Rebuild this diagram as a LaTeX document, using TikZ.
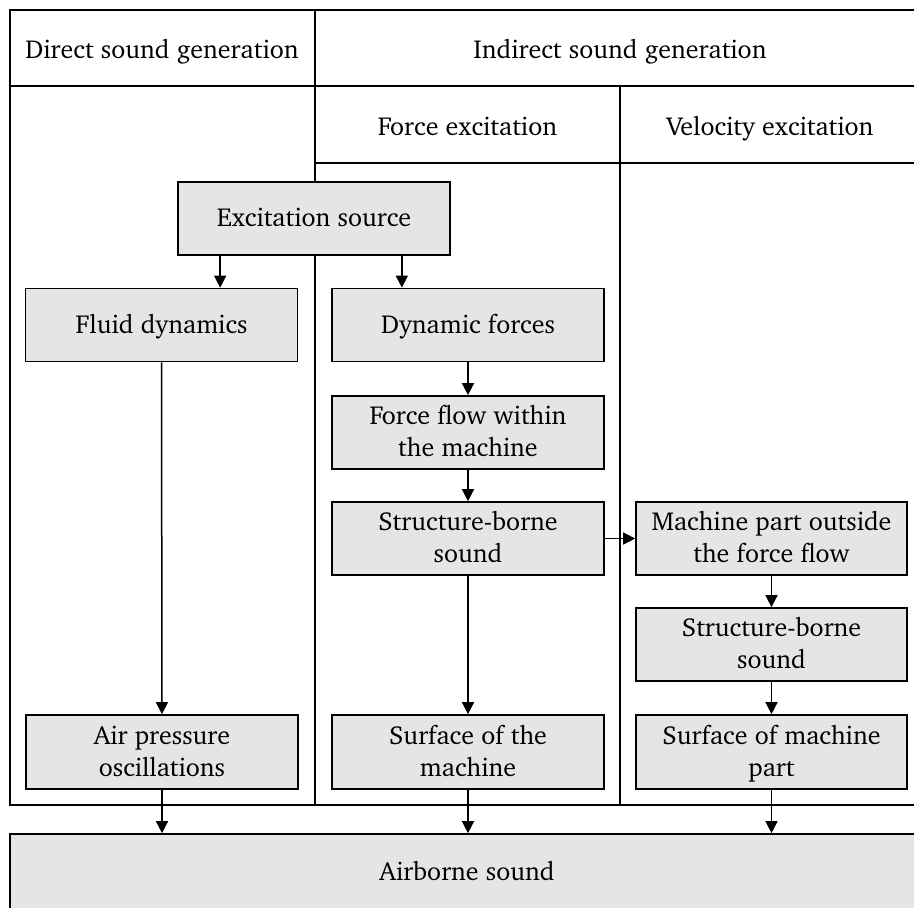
\documentclass[tikz,border=0pt]{standalone}
\usepackage[T1]{fontenc}
\renewcommand{\rmdefault}{bch}
\usetikzlibrary{arrows.meta}
\begin{document}
\begin{tikzpicture}[x=0.5pt,y=-0.5pt,
  frame/.style={line width=0.75pt, black},
  stage/.style={draw=black, line width=0.85pt, fill=black!10, inner sep=0pt,
    align=center, minimum width=136pt, minimum height=36.5pt,
    text depth=0.25ex, font=\fontsize{13}{16}\selectfont},
  head/.style={anchor=base, inner sep=0pt, font=\fontsize{13}{16}\selectfont},
  arr/.style={line width=0.75pt, -{Triangle[length=6pt,width=6pt]}}]
\useasboundingbox (0,0) rectangle (914,907);
\clip (0,0) rectangle (914,907);

% table grid
\draw[frame] (940,10) -- (10,10) -- (10,805) -- (940,805);
\draw[frame] (10,86) -- (940,86);
\draw[frame] (315,163) -- (940,163);
\draw[frame] (315,10) -- (315,805);
\draw[frame] (620,86) -- (620,805);

% column headings
\node[head] (hdirect) at (162,58) {Direct sound generation};
\node[head] (hindirect) at (620,58) {Indirect sound generation};
\node[head] (hforce) at (467.5,135) {Force excitation};
\node[head] (hvel) at (770,135) {Velocity excitation};

% stages
\node[stage] (exc) at (314,218.5) {Excitation source};
\node[stage] (fluid) at (161.5,325) {Fluid dynamics};
\node[stage] (dyn) at (468,325) {Dynamic forces};
\node[stage] (flow) at (468,432.5) {Force flow within\\the machine};
\node[stage] (sb1) at (468,538.5) {Structure-borne\\sound};
\node[stage, minimum width=135.5pt] (mp) at (771.5,538.5) {Machine part outside\\the force flow};
\node[stage, minimum width=135.5pt] (sb2) at (771.5,644.5) {Structure-borne\\sound};
\node[stage, minimum width=135.5pt, minimum height=37pt] (smp) at (771.5,752) {Surface of machine\\part};
\node[stage, minimum height=37pt] (air) at (162,752) {Air pressure\\oscillations};
\node[stage, minimum height=37pt] (sm) at (468,752) {Surface of the\\machine};
\node[stage, minimum width=457pt, minimum height=38pt] (airborne) at (467,872) {Airborne sound};

% connectors
\draw[arr] ([xshift=21.5pt]exc.south west) coordinate (e1) -- (e1 |- fluid.north);
\draw[arr] ([xshift=-24.5pt]exc.south east) coordinate (e2) -- (e2 |- dyn.north);
\draw[arr] (fluid) -- (air);
\draw[arr] (dyn) -- (flow);
\draw[arr] (flow) -- (sb1);
\draw[arr] (sb1) -- (sm);
\draw[arr] (sb1) -- (mp);
\draw[arr] (mp) -- (sb2);
\draw[arr] (sb2) -- (smp);
\draw[arr] (air.south) -- (air.south |- airborne.north);
\draw[arr] (sm.south) -- (sm.south |- airborne.north);
\draw[arr] (smp.south) -- (smp.south |- airborne.north);
\end{tikzpicture}
\end{document}
